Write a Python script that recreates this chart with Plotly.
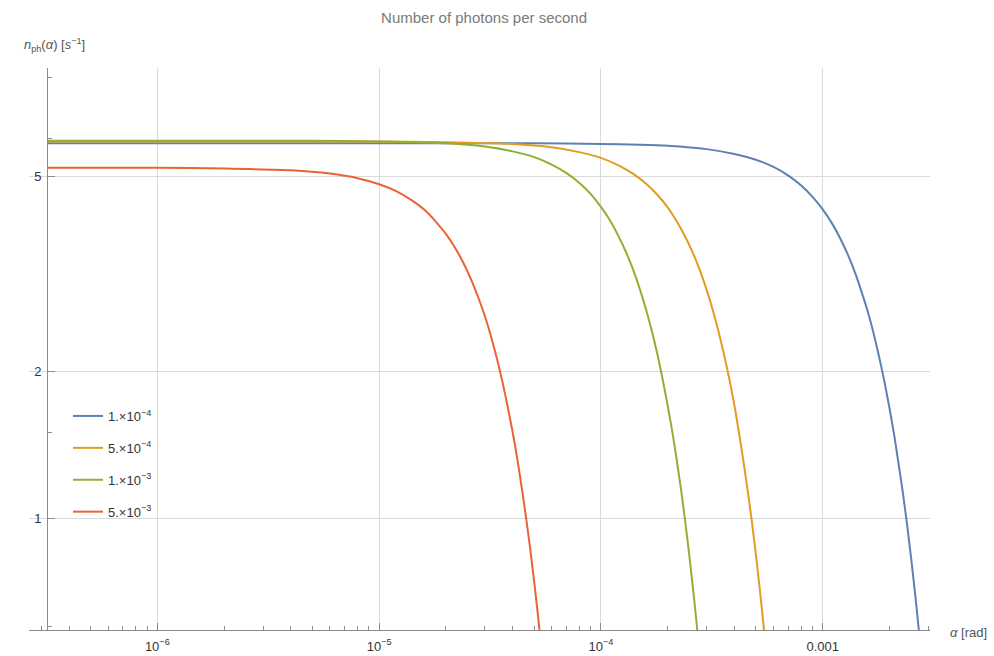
import plotly.graph_objects as go

# Photon rate n_ph(alpha) for four values of the parameter
labels = ["1.×10<sup>−4</sup>", "5.×10<sup>−4</sup>", "1.×10<sup>−3</sup>", "5.×10<sup>−3</sup>"]
colors = ["#5E81B5", "#E19C24", "#8FB032", "#EB6235"]

alpha_blue = [3.2e-7, 1e-5, 5e-5, 1e-4, 1.5e-4, 2e-4, 3e-4, 4e-4, 5e-4, 6e-4, 7e-4, 8e-4, 9e-4,
              1.0e-3, 1.1e-3, 1.2e-3, 1.3e-3, 1.4e-3, 1.5e-3, 1.6e-3, 1.7e-3, 1.8e-3, 1.9e-3,
              2.0e-3, 2.1e-3, 2.2e-3, 2.3e-3, 2.4e-3, 2.5e-3, 2.6e-3, 2.7e-3, 2.8e-3]
n_blue = [5.86, 5.86, 5.86, 5.84, 5.82, 5.79, 5.70, 5.57, 5.42, 5.24, 5.03, 4.80, 4.55,
          4.29, 4.02, 3.74, 3.46, 3.18, 2.90, 2.64, 2.38, 2.13, 1.90,
          1.68, 1.48, 1.29, 1.125, 0.971, 0.833, 0.711, 0.602, 0.507]

alpha_orange = [3.2e-7, 1e-5, 2e-5, 4e-5, 6e-5, 8e-5, 1.0e-4, 1.2e-4, 1.4e-4, 1.6e-4, 1.8e-4,
                2.0e-4, 2.2e-4, 2.4e-4, 2.6e-4, 2.8e-4, 3.0e-4, 3.2e-4, 3.4e-4, 3.6e-4, 3.8e-4,
                4.0e-4, 4.2e-4, 4.4e-4, 4.6e-4, 4.8e-4, 5.0e-4, 5.2e-4, 5.4e-4, 5.6e-4]
n_orange = [5.91, 5.91, 5.89, 5.84, 5.75, 5.62, 5.47, 5.28, 5.07, 4.84, 4.59,
            4.33, 4.05, 3.77, 3.49, 3.21, 2.93, 2.66, 2.40, 2.15, 1.92,
            1.70, 1.49, 1.30, 1.13, 0.979, 0.840, 0.717, 0.608, 0.512]

alpha_green = [3.2e-7, 1e-6, 5e-6, 1e-5, 2e-5, 3e-5, 4e-5, 5e-5, 6e-5, 7e-5, 8e-5, 9e-5,
               1.0e-4, 1.1e-4, 1.2e-4, 1.3e-4, 1.4e-4, 1.5e-4, 1.6e-4, 1.7e-4, 1.8e-4, 1.9e-4,
               2.0e-4, 2.1e-4, 2.2e-4, 2.3e-4, 2.4e-4, 2.5e-4, 2.6e-4, 2.7e-4, 2.8e-4]
n_green = [5.93, 5.93, 5.93, 5.91, 5.86, 5.77, 5.64, 5.49, 5.30, 5.09, 4.86, 4.61,
           4.34, 4.07, 3.78, 3.50, 3.22, 2.94, 2.67, 2.41, 2.16, 1.92,
           1.70, 1.50, 1.31, 1.14, 0.983, 0.843, 0.719, 0.610, 0.514]

alpha_red = [3.2e-7, 1e-6, 2e-6, 4e-6, 6e-6, 8e-6, 1.0e-5, 1.2e-5, 1.4e-5, 1.6e-5, 1.8e-5,
             2.0e-5, 2.2e-5, 2.4e-5, 2.6e-5, 2.8e-5, 3.0e-5, 3.2e-5, 3.4e-5, 3.6e-5, 3.8e-5,
             4.0e-5, 4.2e-5, 4.4e-5, 4.6e-5, 4.8e-5, 5.0e-5, 5.2e-5, 5.4e-5]
n_red = [5.22, 5.22, 5.20, 5.16, 5.08, 4.97, 4.83, 4.67, 4.48, 4.28, 4.05,
         3.82, 3.58, 3.33, 3.08, 2.83, 2.59, 2.35, 2.12, 1.90, 1.69,
         1.50, 1.32, 1.15, 1.00, 0.865, 0.742, 0.633, 0.537]

series = [(alpha_blue, n_blue), (alpha_orange, n_orange), (alpha_green, n_green), (alpha_red, n_red)]

x_major = [1e-6, 1e-5, 1e-4, 1e-3]
x_major_text = ["10<sup>−6</sup>", "10<sup>−5</sup>", "10<sup>−4</sup>", "0.001"]
x_minor = [m * 10.0 ** e for e in range(-7, -2) for m in range(2, 10)]
y_major = [1, 2, 5]
y_major_text = ["1", "2", "5"]
y_minor = [0.6, 1.5, 6, 8]

fig = go.Figure()
for i, ((a, n), lab, col) in enumerate(zip(series, labels, colors)):
    fig.add_trace(go.Scatter(
        x=a, y=n, mode="lines", name=lab, legendgroup=f"g{i}",
        line=dict(color=col, width=2, shape="spline", smoothing=0.5),
        hoverinfo="skip",
    ))

font_family = "Liberation Sans, Arial, sans-serif"
axis_col = "#8a8a8a"
grid_col = "#dadada"
tick_font = dict(family=font_family, size=13, color="#333333")

fig.update_layout(
    width=994, height=656,
    margin=dict(l=29, r=64, t=68, b=26, autoexpand=False),
    paper_bgcolor="white", plot_bgcolor="white",
    showlegend=True,
    title=dict(text="Number of photons per second", x=0.487, xanchor="center",
               y=1 - 18 / 656, yanchor="middle",
               font=dict(family=font_family, size=15, color="#7a7a7a")),
    xaxis=dict(
        type="log", range=[-6.5785, -2.5162], automargin=False,
        tickmode="array", tickvals=x_major, ticktext=x_major_text,
        ticks="inside", ticklen=7, tickwidth=1, tickcolor=axis_col,
        showline=True, linecolor=axis_col, linewidth=1,
        showgrid=True, gridcolor=grid_col, gridwidth=1, zeroline=False,
        minor=dict(tickmode="array", tickvals=x_minor, ticks="inside", ticklen=4,
                   tickcolor=axis_col, tickwidth=1, showgrid=False),
        tickfont=tick_font, ticklabelstandoff=4,
    ),
    yaxis=dict(
        type="log", range=[-0.2295, 0.9221], automargin=False,
        anchor="free", position=18 / 901,
        tickmode="array", tickvals=y_major, ticktext=y_major_text,
        ticks="inside", ticklen=7, tickwidth=1, tickcolor=axis_col,
        showline=True, linecolor=axis_col, linewidth=1,
        showgrid=True, gridcolor=grid_col, gridwidth=1, zeroline=False,
        minor=dict(tickmode="array", tickvals=y_minor, ticks="inside", ticklen=4,
                   tickcolor=axis_col, tickwidth=1, showgrid=False),
        tickfont=tick_font, ticklabelstandoff=3,
    ),
    legend=dict(
        x=(68 - 29) / 901, y=(630 - 401) / 562, xanchor="left", yanchor="top",
        bgcolor="rgba(0,0,0,0)", tracegroupgap=12,
        font=dict(family=font_family, size=13, color="#333333"),
    ),
    annotations=[
        dict(text="<i>n</i><sub>ph</sub>(<i>α</i>) [<i>s</i><sup>−1</sup>]",
             xref="paper", yref="paper", x=(22 - 29) / 901, y=1 + (68 - 45) / 562,
             xanchor="left", yanchor="middle", showarrow=False,
             font=dict(family=font_family, size=13, color="#555555")),
        dict(text="<i>α</i> [rad]",
             xref="paper", yref="paper", x=1 + (948 - 930) / 901, y=(630 - 632) / 562,
             xanchor="left", yanchor="middle", showarrow=False,
             font=dict(family=font_family, size=13, color="#555555")),
    ],
)

fig.write_html("out.html")
